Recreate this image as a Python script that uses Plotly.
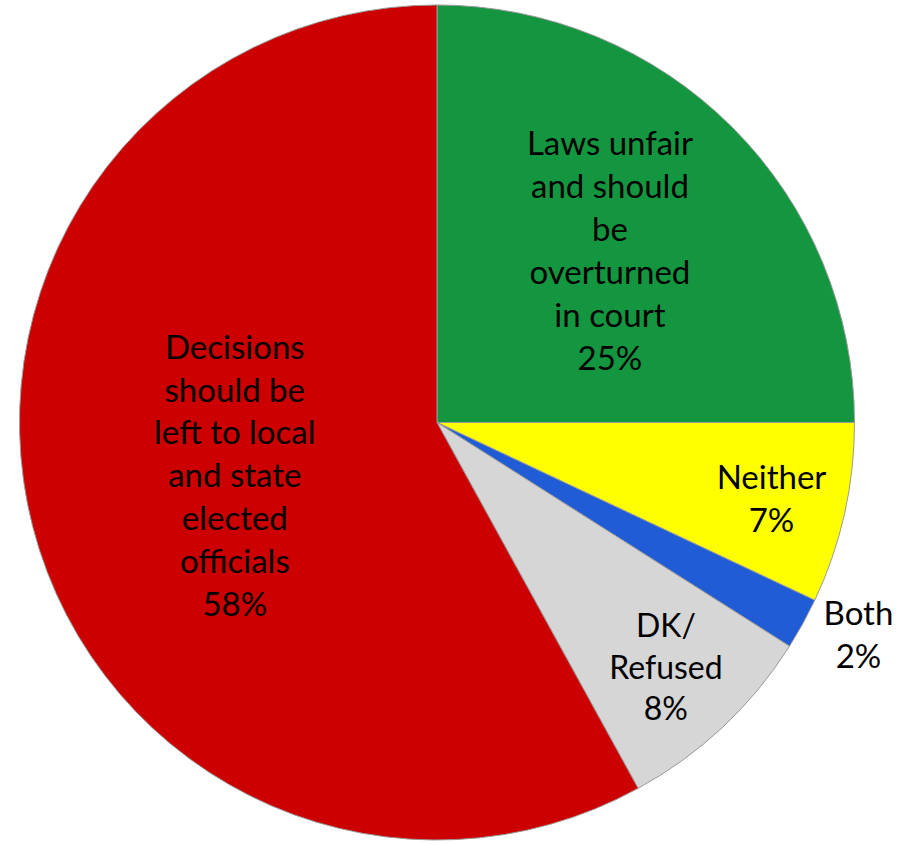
import plotly.graph_objects as go

labels = ["Laws unfair and should be overturned in court", "Neither", "Both", "DK/Refused",
          "Decisions should be left to local and state elected officials"]
values = [25, 7, 2, 8, 58]
texts = ["Laws unfair<br>and should<br>be<br>overturned<br>in court<br>25%",
         "Neither<br>7%", "Both<br>2%", "DK/<br>Refused<br>8%",
         "Decisions<br>should be<br>left to local<br>and state<br>elected<br>officials<br>58%"]
colors = ["#13963F", "#FFFF00", "#1F5CD6", "#D6D6D6", "#CC0000"]
positions = ["inside", "inside", "outside", "inside", "inside"]

fig = go.Figure(go.Pie(
    labels=labels, values=values, text=texts, textinfo="text",
    sort=False, direction="clockwise", rotation=0,
    marker=dict(colors=colors, line=dict(color="#9a9a9a", width=1)),
    textposition=positions, insidetextorientation="horizontal",
    textfont=dict(family="Lato, Open Sans, sans-serif", size=33, color="black"),
    hoverinfo="label+percent",
    domain=dict(x=[16/920, 858/920], y=[0, 841/845]),
    showlegend=False,
))
fig.update_layout(width=920, height=845, margin=dict(l=0, r=0, t=0, b=0),
                  paper_bgcolor="white", plot_bgcolor="white")
fig.write_html("out.html")
